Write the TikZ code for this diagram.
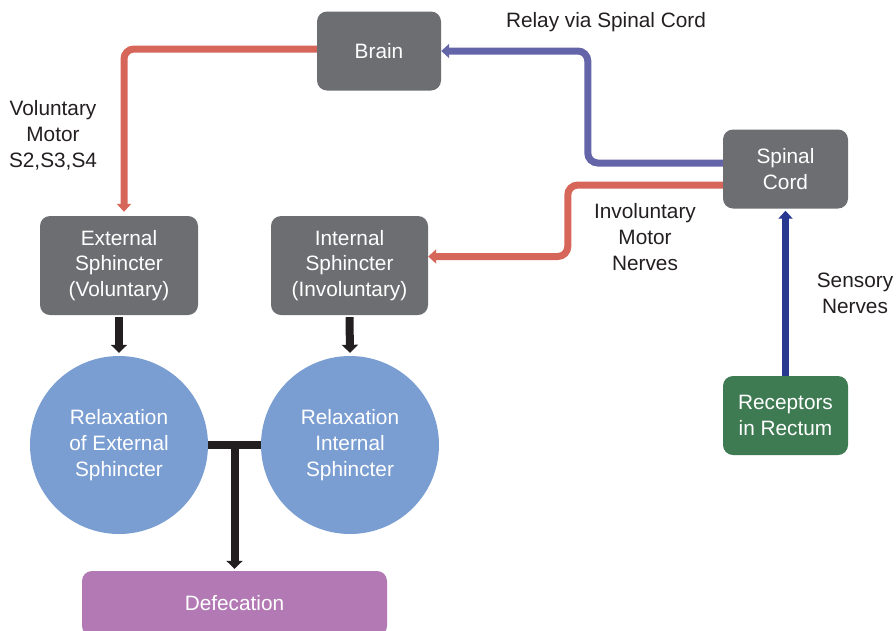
\documentclass[tikz,border=0pt]{standalone}
\usepackage{fontspec}
\setmainfont{Liberation Sans}
\usetikzlibrary{arrows.meta}
\definecolor{organgray}{HTML}{6D6E71}
\definecolor{relaxblue}{HTML}{7B9ED2}
\definecolor{defecpurple}{HTML}{B279B4}
\definecolor{receptgreen}{HTML}{3E7B52}
\definecolor{motorred}{HTML}{D6655A}
\definecolor{relayblue}{HTML}{6365A8}
\definecolor{sensoryblue}{HTML}{283891}
\definecolor{linkblack}{HTML}{231F20}
\tikzset{organ/.style={fill=organgray, text=white, rounded corners=10pt, align=center, inner sep=0pt, minimum width=#1pt, minimum height=79pt}}
\tikzset{relax/.style={circle, fill=relaxblue, text=white, align=center, inner sep=0pt, minimum size=178pt}}
\tikzset{nervetext/.style={align=center, text=linkblack, inner sep=0pt}}
\tikzset{motor/.style={draw=motorred, line width=7pt, rounded corners=10pt, -{Triangle[width=14pt, length=8pt]}}}
\tikzset{relay/.style={draw=relayblue, line width=7pt, rounded corners=10pt, -{Triangle[width=14pt, length=8pt]}}}
\tikzset{sensory/.style={draw=sensoryblue, line width=7pt, -{Triangle[width=14pt, length=8pt]}}}
\tikzset{link/.style={draw=linkblack, line width=8pt}}
\begin{document}
\begin{tikzpicture}[x=1pt, y=-1pt, font=\fontsize{20.8}{25.8}\selectfont]
    \useasboundingbox (0,0) rectangle (896,630);
    \node[organ=124] (brain) at (379,51) {Brain};
    \node[organ=125] (spinal) at (785.5,169) {Spinal\\Cord};
    \node[organ=158, minimum height=99pt] (extern) at (119,265.5) {External\\Sphincter\\(Voluntary)};
    \node[organ=157, minimum height=99pt] (intern) at (349.5,265.5) {Internal\\Sphincter\\(Involuntary)};
    \node[organ=125, fill=receptgreen] (recept) at (785.5,415.5) {Receptors\\in Rectum};
    \node[relax] (relaxext) at (119,445) {Relaxation\\of External\\Sphincter};
    \node[relax] (relaxint) at (350,445) {Relaxation\\Internal\\Sphincter};
    \node[organ=305, minimum height=65pt, fill=defecpurple] (defec) at (234.5,603.5) {Defecation};
    \node[nervetext] (relaytext) at (606,22) {Relay via Spinal Cord};
    \node[nervetext] (voltext) at (53,135.5) {Voluntary\\Motor\\S2,S3,S4};
    \node[nervetext] (invtext) at (645,237) {Involuntary\\Motor\\Nerves};
    \node[nervetext] (senstext) at (855,293.5) {Sensory\\Nerves};
    % nerve pathways
    \draw[motor, shorten >=4pt] ([yshift=2pt]brain.west) -| ([xshift=5pt]extern.north);
    \draw[relay] ([yshift=6pt]spinal.west) -- ++(-135,0) |- (brain.east);
    \draw[motor] ([yshift=-16pt]spinal.west) -- ++(-155,0) |- ([yshift=9pt]intern.east);
    \draw[sensory, shorten >=2pt] (recept.north) -- (spinal.south);
    % sphincters to defecation
    \foreach \from/\to in {extern/relaxext, intern/relaxint} {
        \draw[link, -{Triangle[width=16pt, length=8pt]}, shorten <=2pt, shorten >=3pt] (\from.south) -- (\to.north);
    }
    \draw[link] (relaxext.east) -- coordinate (tee) (relaxint.west);
    \draw[link, -{Triangle[width=16pt, length=8pt]}, shorten >=2pt] (tee) -- (defec.north);
\end{tikzpicture}
\end{document}
